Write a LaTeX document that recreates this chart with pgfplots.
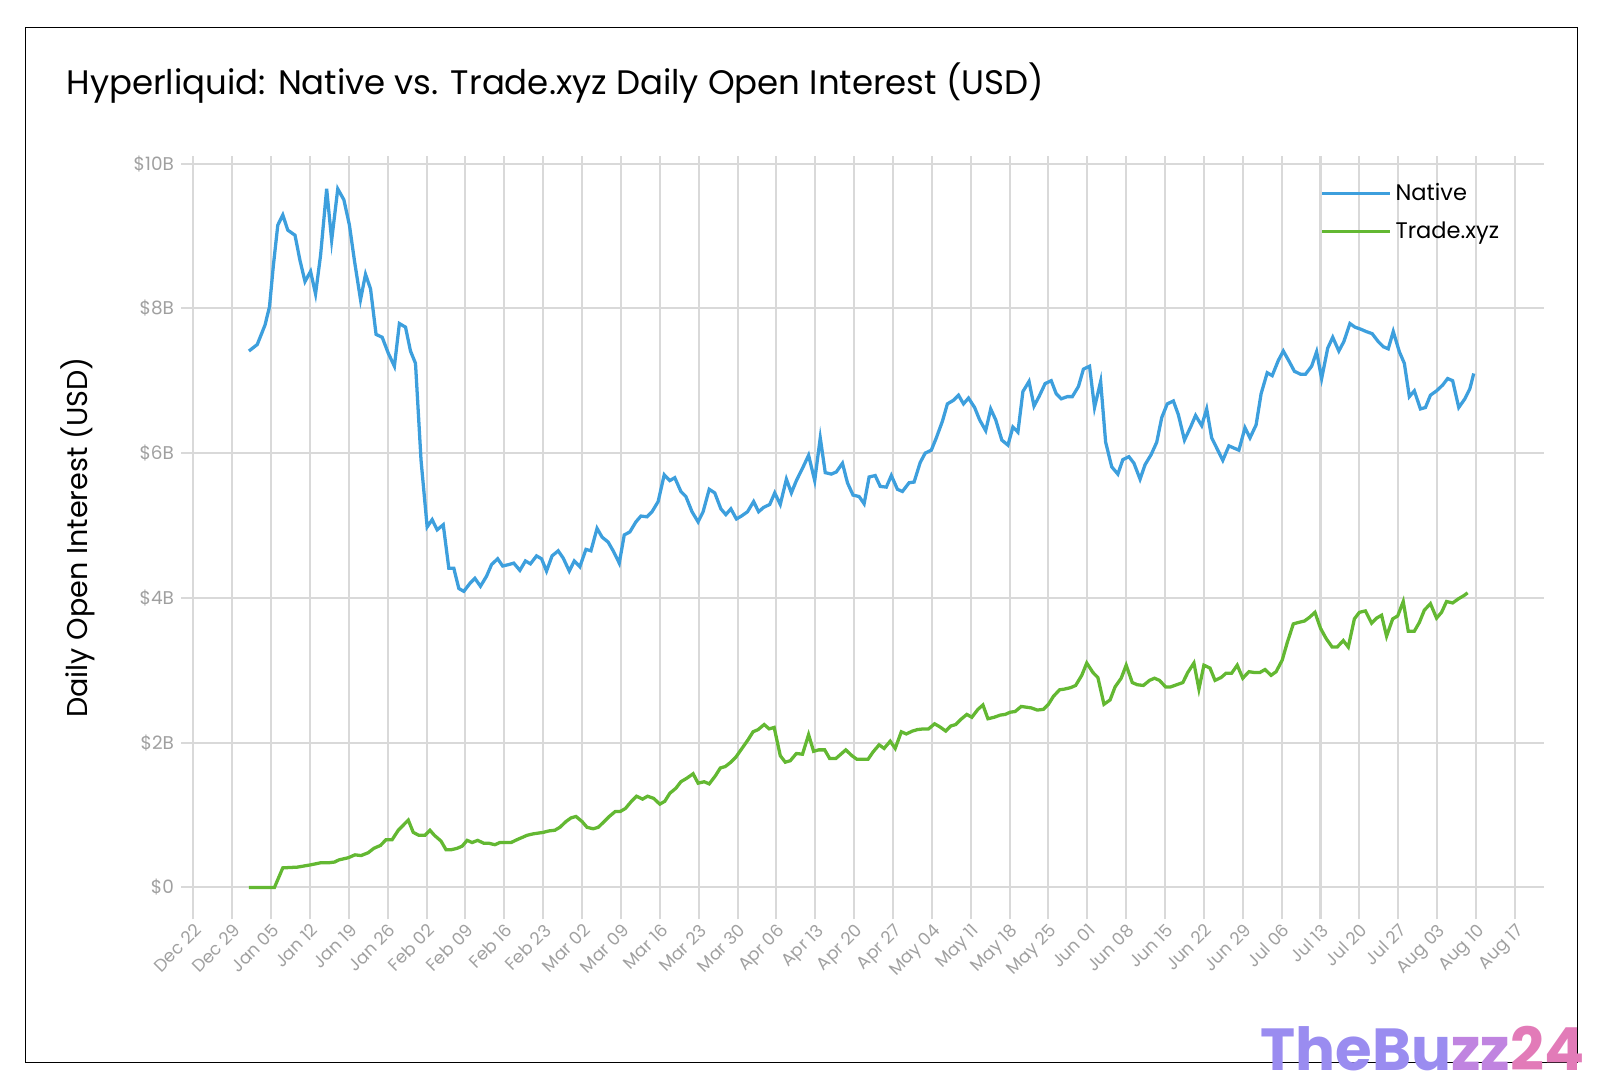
\documentclass[border=0pt]{standalone}
\usepackage{pgfplots}
\pgfplotsset{compat=1.18}
\usepackage{fontspec}
\setmainfont{Poppins}
\definecolor{native}{HTML}{3D9FDD}
\definecolor{trade}{HTML}{63B832}
\definecolor{gridc}{HTML}{D9D9D9}
\definecolor{tickc}{HTML}{A0A0A0}
\begin{document}
\begin{tikzpicture}
\draw[black,line width=0.8pt] (12.5pt,24.5pt) rectangle (770.5pt,530pt);
\node[anchor=west,font=\fontsize{16.6}{18}\selectfont] at (29pt,503pt) {Hyperliquid: Native vs. Trade.xyz Daily Open Interest (USD)};
\begin{axis}[at={(88.5pt,94.5pt)},anchor=south west,scale only axis,
 width=665.5pt,height=373pt,
 xmin=-2.2,xmax=243.2,ymin=-0.44,ymax=10.11,
 axis line style={draw=none},
 tick style={draw=none},
 grid=major, grid style={gridc,line width=1pt},
 xtick={0,7,...,238},
 xticklabels={Dec 22,Dec 29,Jan 05,Jan 12,Jan 19,Jan 26,Feb 02,Feb 09,Feb 16,Feb 23,Mar 02,Mar 09,Mar 16,Mar 23,Mar 30,Apr 06,Apr 13,Apr 20,Apr 27,May 04,May 11,May 18,May 25,Jun 01,Jun 08,Jun 15,Jun 22,Jun 29,Jul 06,Jul 13,Jul 20,Jul 27,Aug 03,Aug 10,Aug 17},
 x tick label style={rotate=45,anchor=north east,font=\fontsize{8.5}{9}\selectfont,text=tickc,inner sep=1pt},
 ytick={0,2,4,6,8,10},
 yticklabels={\$0,\$2B,\$4B,\$6B,\$8B,\$10B},
 y tick label style={font=\fontsize{9}{10}\selectfont,text=tickc},
 ylabel={Daily Open Interest (USD)},
 ylabel style={font=\fontsize{14}{15}\selectfont,yshift=12pt},
 legend cell align=left,
 legend style={at={(0.975,0.975)},anchor=north east,draw=none,fill=none,font=\fontsize{11}{13}\selectfont,row sep=5pt},
 legend image code/.code={\draw[#1] (0pt,0pt) -- (33pt,0pt);},
]
\addplot[native,line width=1.6pt] coordinates {
(10,7.41)(11.5,7.50)(12.9,7.77)(13.7,8.02)(14.4,8.59)(15.2,9.15)(16.1,9.29)(17.0,9.08)(18.3,9.01)(19.2,8.66)
(20.1,8.37)(21.1,8.51)(22.0,8.20)(22.9,8.73)(24.0,9.65)(24.9,8.94)(26.0,9.65)(27.1,9.50)(28.1,9.15)(29.0,8.66)
(30.1,8.12)(31.0,8.47)(31.9,8.27)(32.9,7.64)(34.0,7.60)(35.1,7.38)(36.2,7.20)(37.1,7.79)(38.2,7.74)(39.1,7.41)
(40.0,7.24)(41.0,5.90)(42.1,4.98)(43.0,5.08)(43.9,4.94)(45.0,5.01)(46.0,4.41)(46.9,4.41)(47.8,4.13)(48.7,4.09)
(49.8,4.20)(50.7,4.27)(51.7,4.16)(52.8,4.30)(53.7,4.46)(54.8,4.54)(55.7,4.44)(56.8,4.46)(57.7,4.48)(58.8,4.38)
(59.8,4.51)(60.7,4.47)(61.8,4.58)(62.7,4.54)(63.6,4.37)(64.6,4.58)(65.7,4.65)(66.6,4.55)(67.7,4.37)(68.6,4.51)
(69.6,4.43)(70.7,4.67)(71.6,4.65)(72.7,4.96)(73.6,4.84)(74.7,4.77)(75.6,4.65)(76.7,4.48)(77.6,4.87)(78.6,4.91)
(79.7,5.05)(80.6,5.13)(81.7,5.12)(82.6,5.19)(83.7,5.33)(84.8,5.70)(85.8,5.62)(86.7,5.66)(87.8,5.47)(88.7,5.40)
(89.8,5.19)(90.9,5.05)(91.8,5.19)(92.9,5.50)(93.9,5.45)(95.0,5.23)(95.9,5.15)(96.8,5.23)(97.8,5.09)(98.7,5.13)
(99.8,5.19)(100.9,5.33)(101.8,5.19)(102.7,5.25)(103.8,5.29)(104.7,5.45)(105.7,5.29)(106.8,5.64)(107.7,5.45)(108.6,5.62)
(109.7,5.79)(110.8,5.97)(111.9,5.62)(112.9,6.21)(113.8,5.73)(114.9,5.71)(115.8,5.74)(116.9,5.86)(117.8,5.59)(118.8,5.42)
(119.9,5.40)(120.8,5.30)(121.7,5.67)(122.8,5.69)(123.7,5.54)(124.8,5.53)(125.7,5.69)(126.8,5.50)(127.7,5.47)(128.9,5.59)
(129.8,5.60)(130.9,5.87)(131.8,6.00)(132.9,6.04)(133.8,6.21)(134.9,6.44)(135.8,6.68)(136.9,6.73)(137.8,6.80)(138.7,6.68)
(139.6,6.76)(140.7,6.63)(141.6,6.46)(142.7,6.31)(143.6,6.61)(144.5,6.46)(145.6,6.18)(146.7,6.11)(147.6,6.36)(148.5,6.29)
(149.4,6.85)(150.5,6.99)(151.4,6.65)(152.3,6.78)(153.4,6.96)(154.5,7.00)(155.4,6.82)(156.3,6.75)(157.4,6.78)(158.3,6.78)
(159.4,6.92)(160.3,7.16)(161.4,7.20)(162.3,6.63)(163.4,6.99)(164.3,6.15)(165.4,5.81)(166.5,5.71)(167.4,5.91)(168.5,5.95)
(169.4,5.86)(170.5,5.64)(171.4,5.84)(172.5,5.98)(173.5,6.15)(174.4,6.49)(175.4,6.68)(176.5,6.72)(177.4,6.53)(178.5,6.18)
(179.6,6.36)(180.5,6.52)(181.6,6.38)(182.5,6.61)(183.4,6.21)(184.5,6.04)(185.4,5.90)(186.5,6.10)(187.4,6.07)(188.3,6.04)
(189.4,6.35)(190.3,6.21)(191.4,6.39)(192.3,6.82)(193.4,7.11)(194.3,7.07)(195.4,7.28)(196.3,7.41)(197.4,7.26)(198.3,7.13)
(199.4,7.09)(200.3,7.09)(201.4,7.20)(202.3,7.40)(203.2,7.03)(204.3,7.45)(205.2,7.60)(206.3,7.41)(207.2,7.54)(208.3,7.79)
(209.2,7.74)(210.3,7.71)(211.2,7.68)(212.3,7.65)(213.4,7.54)(214.3,7.47)(215.2,7.44)(216.1,7.68)(217.2,7.40)(218.1,7.24)
(219.0,6.78)(219.9,6.86)(221.0,6.61)(221.9,6.63)(222.8,6.80)(223.9,6.86)(225.0,6.94)(225.9,7.03)(226.8,7.00)(227.9,6.63)
(229.0,6.75)(229.9,6.89)(230.6,7.10)};
\addlegendentry{Native}
\addplot[trade,line width=1.6pt] coordinates {
(10,0)(14.6,0)(16.1,0.27)(18.7,0.28)(21.0,0.31)(22.9,0.34)(24.3,0.34)(25.4,0.35)(26.2,0.38)(27.9,0.41)
(29.1,0.45)(30.2,0.44)(31.5,0.48)(32.5,0.54)(33.7,0.58)(34.7,0.66)(35.8,0.66)(36.9,0.79)(37.8,0.86)(38.7,0.93)
(39.6,0.76)(40.6,0.72)(41.7,0.72)(42.6,0.79)(43.4,0.72)(44.6,0.64)(45.5,0.52)(46.4,0.52)(47.5,0.54)(48.4,0.57)
(49.3,0.65)(50.2,0.62)(51.2,0.65)(52.3,0.61)(53.2,0.61)(54.3,0.59)(55.2,0.62)(56.3,0.62)(57.2,0.62)(58.3,0.66)
(59.2,0.69)(60.1,0.72)(61.2,0.74)(62.1,0.75)(63.0,0.76)(64.0,0.78)(65.1,0.79)(66.0,0.83)(67.1,0.91)(68.0,0.96)
(68.9,0.98)(70.0,0.91)(70.9,0.83)(72.0,0.81)(72.9,0.83)(74.0,0.91)(74.9,0.98)(76.0,1.05)(76.9,1.05)(77.8,1.09)
(78.9,1.19)(79.8,1.26)(80.9,1.22)(81.8,1.26)(82.9,1.23)(84.0,1.15)(84.9,1.19)(85.8,1.30)(86.9,1.37)(87.8,1.46)
(88.9,1.51)(90.0,1.57)(90.9,1.44)(92.0,1.46)(92.9,1.43)(94.0,1.54)(94.9,1.65)(95.8,1.67)(96.8,1.73)(97.7,1.80)
(98.8,1.92)(99.9,2.04)(100.8,2.15)(101.7,2.18)(102.8,2.25)(103.7,2.19)(104.6,2.21)(105.7,1.82)(106.6,1.73)(107.5,1.75)
(108.6,1.85)(109.7,1.84)(110.8,2.11)(111.7,1.88)(112.6,1.90)(113.7,1.90)(114.6,1.78)(115.7,1.78)(116.6,1.84)(117.5,1.90)
(118.6,1.82)(119.5,1.77)(120.4,1.77)(121.5,1.77)(122.4,1.87)(123.5,1.97)(124.4,1.92)(125.5,2.02)(126.4,1.92)(127.5,2.15)
(128.4,2.12)(129.5,2.16)(130.4,2.18)(131.5,2.19)(132.4,2.19)(133.5,2.26)(134.4,2.22)(135.5,2.16)(136.4,2.23)(137.3,2.25)
(138.2,2.32)(139.3,2.39)(140.2,2.35)(141.3,2.46)(142.2,2.52)(143.1,2.33)(144.2,2.35)(145.3,2.38)(146.2,2.39)(147.1,2.42)
(148.0,2.43)(149.1,2.50)(150.0,2.49)(150.9,2.48)(152.0,2.45)(153.1,2.46)(154.0,2.53)(154.9,2.64)(156.0,2.73)(156.9,2.74)
(158.0,2.76)(158.9,2.79)(160.0,2.93)(160.9,3.10)(162.0,2.97)(162.9,2.90)(164.0,2.53)(165.1,2.59)(166.0,2.77)(167.1,2.89)
(168.0,3.07)(169.1,2.83)(170.0,2.80)(171.1,2.79)(172.2,2.86)(173.1,2.89)(174.0,2.86)(175.1,2.77)(176.0,2.77)(177.1,2.80)
(178.2,2.83)(179.1,2.97)(180.2,3.10)(181.1,2.74)(182.0,3.07)(183.1,3.03)(184.0,2.86)(185.1,2.90)(186.0,2.96)(187.0,2.96)
(188.0,3.07)(189.0,2.89)(190.1,2.98)(191.0,2.97)(192.1,2.97)(193.0,3.01)(194.1,2.93)(195.0,2.98)(196.1,3.14)(197.0,3.38)
(198.1,3.64)(199.0,3.66)(200.1,3.68)(201.0,3.73)(202.0,3.80)(203.0,3.58)(204.0,3.44)(205.1,3.32)(206.0,3.32)(207.1,3.41)
(208.0,3.32)(209.1,3.71)(210.0,3.80)(211.1,3.82)(212.2,3.65)(213.1,3.72)(214.0,3.76)(214.9,3.47)(216.0,3.71)(216.9,3.75)
(217.9,3.95)(218.8,3.54)(219.9,3.54)(220.8,3.66)(221.7,3.83)(222.8,3.92)(223.9,3.72)(224.8,3.80)(225.7,3.95)(226.8,3.93)
(227.9,3.99)(228.8,4.03)(229.5,4.07)};
\addlegendentry{Trade.xyz}
\end{axis}
\node[anchor=south east,inner sep=0pt,font=\fontsize{29}{32}\selectfont\bfseries] at (774pt,20pt) {\textcolor[HTML]{9A8CF0}{TheBu}\textcolor[HTML]{C084E0}{zz}\textcolor[HTML]{E27BB8}{24}};
\pgfresetboundingbox
\useasboundingbox (0,12.5pt) rectangle (781.5pt,543.5pt);
\end{tikzpicture}
\end{document}
